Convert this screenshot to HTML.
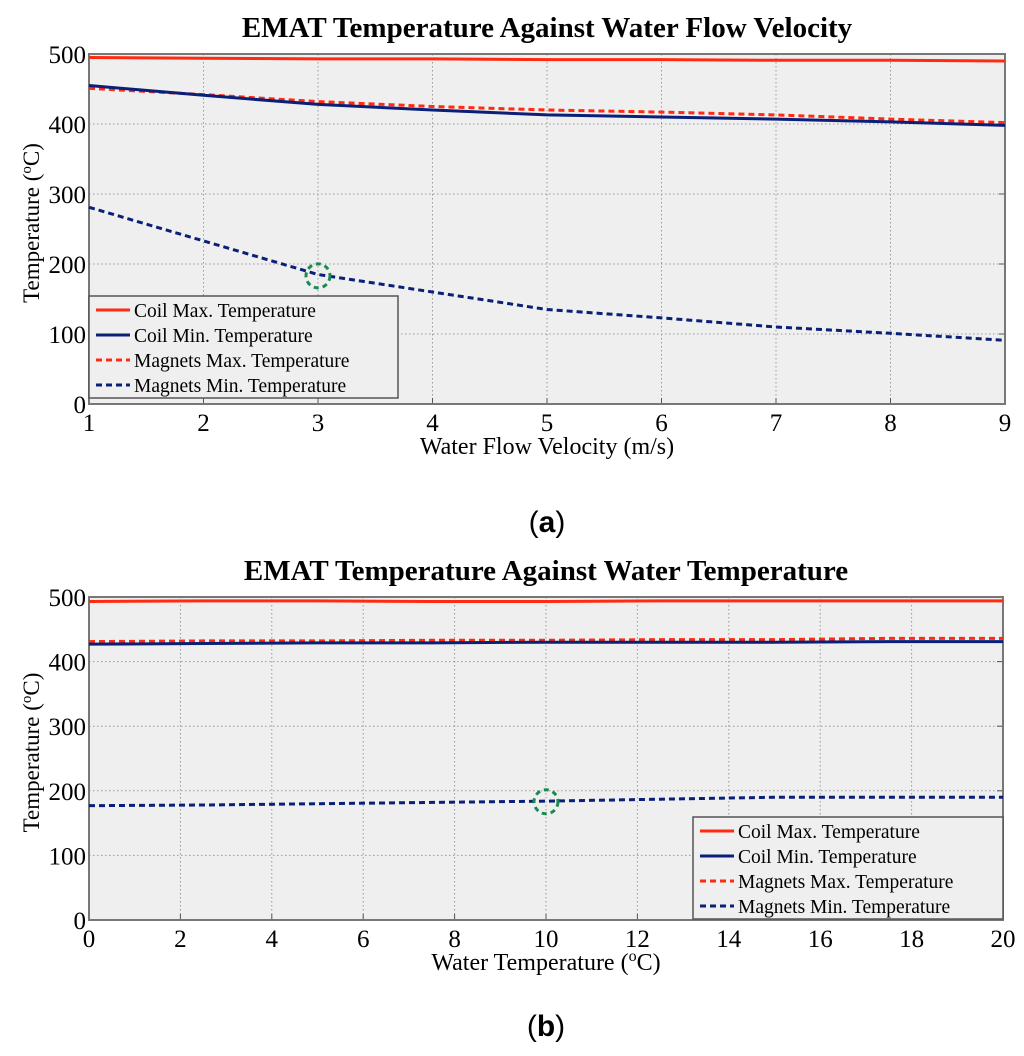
<!DOCTYPE html>
<html><head><meta charset="utf-8"><style>
body{margin:0;background:#fff;}
svg{display:block;font-family:"Liberation Serif",serif;}
</style></head><body>
<svg id="root" width="1024" height="1056" xmlns="http://www.w3.org/2000/svg"></svg>
<script>
const aX=[1,2,3,4,5,6,7,8,9];
const aCoilMax=[495,494,493,493,492,492,491,491,490];
const aCoilMin=[455,441,428,420,413,410,407,403,398];
const aMagMax=[451,442,432,425,420,417,413,407,402];
const aMagMin=[281,233,185,160,135,123,110,101,91];
const aXTicks=[1,2,3,4,5,6,7,8,9];
const bX=[0,2.5,5,7.5,10,12.5,15,17.5,20];
const bCoilMax=[493,494,494,493,493,494,494,494,494];
const bCoilMin=[427,428,429,429,430,430,430,431,431];
const bMagMax=[431,432,432,433,433,434,434,436,436];
const bMagMin=[177,178,180,182,184,187,190,190,190];
const bXTicks=[0,2,4,6,8,10,12,14,16,18,20];
const yTicks=[0,100,200,300,400,500];
const NS="http://www.w3.org/2000/svg";
const root=document.getElementById('root');
function el(t,a,p){const e=document.createElementNS(NS,t);for(const k in a)e.setAttribute(k,a[k]);(p||root).appendChild(e);return e;}
function txt(s,a,p){const e=el('text',a,p);e.textContent=s;return e;}
function chart(o){
  const g=el('g',{});
  
  
  const sx=v=>o.L+(v-o.x0)/(o.x1-o.x0)*(o.R-o.L);
  const sy=v=>o.B-v/500*(o.B-o.T);
  const bg=el('rect',{x:o.L,y:o.T,width:o.R-o.L,height:o.B-o.T,fill:'#efefef'},g);
  
  o.xt.forEach(v=>{
    el('line',{x1:sx(v),x2:sx(v),y1:o.T,y2:o.B,stroke:'#999','stroke-dasharray':'1.5,2.5','stroke-width':1},g);
    el('line',{x1:sx(v),x2:sx(v),y1:o.B,y2:o.B-6,stroke:'#555'},g);
    const t=txt(String(v),{x:sx(v),y:o.B+27,'font-size':25,'text-anchor':'middle'},g);
    
  });
  yTicks.forEach(v=>{
    el('line',{x1:o.L,x2:o.R,y1:sy(v),y2:sy(v),stroke:'#999','stroke-dasharray':'1.5,2.5','stroke-width':1},g);
    el('line',{x1:o.R,x2:o.R-6,y1:sy(v),y2:sy(v),stroke:'#555'},g);
    const t=txt(String(v),{x:o.L-3,y:sy(v)+9,'font-size':25,'text-anchor':'end'},g);
    
  });
  el('rect',{x:o.L,y:o.T,width:o.R-o.L,height:o.B-o.T,fill:'none',stroke:'#777','stroke-width':2},g);
  const series=[[o.cMax,'#ff2a10',null,'coil-max-line'],[o.mMax,'#ff2a10','6,4','magnets-max-line'],[o.cMin,'#0a1f78',null,'coil-min-line'],[o.mMin,'#0a1f78','6,4','magnets-min-line']];
  series.forEach(s=>{
    const p=el('polyline',{points:o.xs.map((x,i)=>sx(x)+','+sy(s[0][i])).join(' '),fill:'none',stroke:s[1],'stroke-width':3},g);
    if(s[2])p.setAttribute('stroke-dasharray',s[2]);
    
  });
  const c=el('circle',{cx:sx(o.mk),cy:sy(o.mkv),r:12,fill:'none',stroke:'#1a8a50','stroke-width':3,'stroke-dasharray':'5,4'},g);
  
  const lg=el('g',{},g);
  
  el('rect',{x:o.lx,y:o.ly,width:o.lw,height:102,fill:'#efefef',stroke:'#555','stroke-width':1.5},lg);
  const labels=['Coil Max. Temperature','Coil Min. Temperature','Magnets Max. Temperature','Magnets Min. Temperature'];
  const ls=[['#ff2a10',null],['#0a1f78',null],['#ff2a10','6,4'],['#0a1f78','6,4']];
  labels.forEach((l,i)=>{
    const y=o.ly+14+i*25;
    const ln=el('line',{x1:o.lx+7,x2:o.lx+41,y1:y,y2:y,stroke:ls[i][0],'stroke-width':3},lg);
    if(ls[i][1])ln.setAttribute('stroke-dasharray',ls[i][1]);
    const t=txt(l,{x:o.lx+45,y:y+7,'font-size':19.5},lg);
    
  });
  const ti=txt(o.title,{x:(o.L+o.R)/2,y:o.T-17,'font-size':29,'font-weight':'bold','text-anchor':'middle'},g);
  
  const xl=el('text',{x:(o.L+o.R)/2,y:o.B+50,'font-size':24,'text-anchor':'middle'},g);
  xl.innerHTML=o.xlab;
  
  const yl=el('text',{x:0,y:0,'font-size':23,'text-anchor':'middle',transform:'translate(39,'+((o.T+o.B)/2-6)+') rotate(-90)'},g);
  yl.innerHTML='Temperature (<tspan dy="-8" font-size="15">o</tspan><tspan dy="8">C)</tspan>';
  
  const cap=el('text',{x:(o.L+o.R)/2,y:o.capY,'font-size':30,'text-anchor':'middle','font-family':'Liberation Sans, sans-serif'},g);
  cap.innerHTML='(<tspan font-weight="bold">'+o.cap+'</tspan>)';
  
}
chart({name:'chart-velocity',L:89,R:1005,T:54,B:404,x0:1,x1:9,xs:aX,xt:aXTicks,cMax:aCoilMax,cMin:aCoilMin,mMax:aMagMax,mMin:aMagMin,mk:3,mkv:183,lx:89,ly:296,lw:309,title:'EMAT Temperature Against Water Flow Velocity',xlab:'Water Flow Velocity (m/s)',cap:'a',capY:532});
chart({name:'chart-water-temp',L:89,R:1003,T:597,B:920,x0:0,x1:20,xs:bX,xt:bXTicks,cMax:bCoilMax,cMin:bCoilMin,mMax:bMagMax,mMin:bMagMin,mk:10,mkv:183,lx:693,ly:817,lw:310,title:'EMAT Temperature Against Water Temperature',xlab:'Water Temperature (<tspan dy="-9" font-size="16">o</tspan><tspan dy="9">C)</tspan>',cap:'b',capY:1036});
</script>
</body></html>
